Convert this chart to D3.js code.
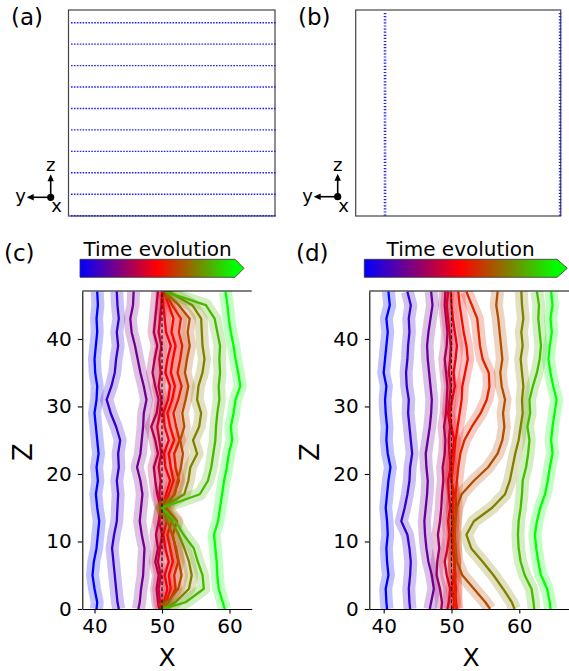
<!DOCTYPE html>
<html>
<head>
<meta charset="utf-8">
<script src="https://cdn.jsdelivr.net/npm/d3@7/dist/d3.min.js"></script>
<style>
    body{ margin:0; background:#fff; }
    svg{ display:block; font-family:"DejaVu Sans", sans-serif; }
</style>
</head>
<body>
<svg id="fig" width="569" height="671"></svg>
<script>
//heights (z) at which every trace is sampled
var zs = [0,1,3,5,7,9,11,13,15,17,19,21,23,25,27,29,31,33,35,37,39,41,43,45,47];

//time of each snapshot, 0 = first (blue), 1 = last (green)
var timesC = [0, 0.1, 0.22, 0.32, 0.4, 0.46, 0.5, 0.55, 0.65, 0.75, 0.86, 1.0];
var timesD = [0, 0.1, 0.2, 0.3, 0.4, 0.47, 0.52, 0.57, 0.65, 0.75, 0.87, 1.0];

//panel (c): x position of the front along z, one array per snapshot
var tracesC = [
    [40.3,40.4,40.0,39.7,39.9,40.3,40.5,40.7,40.4,40.2,40.5,40.3,40.6,40.4,40.2,40.0,40.3,40.4,40.1,40.0,40.2,40.4,40.3,40.5,40.4],
    [43.6,43.4,43.2,43.0,42.8,42.6,42.9,43.3,43.4,43.5,43.3,43.6,43.5,43.8,43.2,42.4,41.8,42.5,43.0,43.2,43.5,43.3,43.6,43.4,43.3],
    [46.5,46.7,46.9,47.2,47.3,47.4,47.0,46.7,46.9,47.1,46.8,46.3,46.8,47.0,47.2,47.3,47.7,47.3,46.8,46.4,46.0,45.5,45.3,45.7,45.8],
    [49.6,49.4,49.2,49.5,49.0,49.4,49.1,49.5,49.8,49.3,49.0,48.8,49.4,49.0,48.4,49.2,49.5,49.0,48.6,48.9,49.3,48.8,49.0,49.2,49.4],
    [49.9,49.7,49.5,49.8,49.4,49.7,50.0,49.6,49.9,49.6,49.8,49.5,49.9,49.6,49.3,49.7,49.9,49.5,49.8,49.6,49.9,49.5,49.7,49.9,50.0],
    [50.0,50.3,50.8,50.4,51.0,50.5,50.2,50.7,50.1,50.6,51.2,50.5,50.3,51.0,50.4,50.2,50.9,51.2,50.5,50.8,51.3,50.6,50.4,50.2,50.1],
    [50.0,50.6,51.3,51.0,51.6,51.2,50.8,51.4,50.3,51.0,51.7,51.3,51.0,51.8,51.2,50.8,51.5,51.9,51.3,51.6,52.0,51.4,51.7,51.0,50.3],
    [50.0,51.0,52.0,51.8,52.4,52.0,51.6,52.2,50.6,51.8,52.5,52.0,51.8,52.6,52.1,51.7,52.4,52.9,52.3,52.7,53.0,52.5,52.8,51.5,50.5],
    [50.0,50.8,52.4,52.9,52.5,52.1,51.5,50.8,50.0,51.9,52.3,52.8,53.1,52.7,53.3,53.0,53.5,53.9,53.4,53.7,54.1,53.8,54.1,52.5,50.4],
    [50.1,52.0,54.0,54.4,54.0,53.3,52.5,51.4,50.0,53.3,53.9,54.2,55.2,54.6,55.5,55.8,55.2,55.4,56.0,56.3,56.0,55.9,55.8,54.5,51.0],
    [50.0,53.5,56.2,56.0,55.3,54.7,53.2,52.0,50.0,55.6,56.8,57.3,57.6,57.9,58.0,58.2,58.5,58.4,58.6,58.5,58.6,58.2,57.8,56.5,50.5],
    [59.3,59.0,58.4,58.2,58.1,57.9,57.7,58.3,58.6,58.9,59.2,59.6,59.9,60.4,60.2,60.6,60.9,61.6,61.3,60.9,60.6,60.2,59.9,59.7,59.4]
];

//panel (d)
var tracesD = [
    [40.5,40.4,40.3,40.7,40.5,40.4,40.6,40.5,40.3,40.5,40.7,41.0,40.6,40.4,40.5,40.3,40.2,40.4,40.0,40.2,40.4,40.6,40.4,40.9,40.7],
    [43.9,43.8,43.7,43.9,44.0,43.8,43.5,42.6,43.1,43.5,43.8,43.9,44.2,44.0,43.8,43.6,43.7,43.4,43.3,43.5,43.6,43.8,43.7,44.0,43.5],
    [46.8,47.0,47.4,47.1,46.6,46.3,46.1,46.0,46.2,46.4,46.5,46.3,46.2,46.5,46.8,47.0,47.1,46.9,46.7,46.5,46.4,46.6,46.9,47.2,47.0],
    [48.5,48.6,48.3,47.8,47.9,48.2,48.0,48.3,48.5,48.6,48.8,48.7,49.0,49.1,48.9,49.2,49.3,49.4,49.2,49.0,49.3,49.4,49.2,49.0,49.1],
    [49.4,49.6,49.8,49.3,49.0,49.4,49.7,49.5,49.8,49.6,49.5,49.9,49.7,49.6,49.8,49.5,49.7,49.9,49.6,49.8,49.9,49.7,49.5,49.3,49.5],
    [50.2,50.4,50.1,50.3,50.5,50.2,50.0,50.3,50.1,50.4,50.0,49.8,50.1,50.4,50.0,49.7,50.1,50.5,50.3,50.6,50.8,50.5,50.2,50.0,49.9],
    [50.8,50.7,50.5,50.6,50.4,50.2,50.3,50.1,50.3,50.2,50.0,50.2,50.4,50.6,50.9,51.2,51.5,51.6,52.0,52.4,52.2,51.8,51.5,51.2,51.0],
    [50.6,50.5,50.7,50.4,50.5,50.6,50.4,50.5,50.7,50.6,50.8,51.0,51.3,51.9,53.0,54.3,55.2,55.6,55.5,54.6,54.2,54.0,53.8,53.0,52.2],
    [55.7,55.0,53.3,51.6,50.8,50.6,50.5,50.6,50.8,51.5,53.3,55.4,56.8,57.5,57.8,57.6,57.9,57.4,57.2,57.5,57.3,57.1,56.9,56.6,56.8],
    [59.3,58.9,57.6,56.2,54.6,52.9,52.2,53.3,56.0,57.9,58.6,59.0,59.4,59.9,60.2,60.5,60.4,60.6,60.4,60.2,60.5,60.3,60.6,60.4,60.3],
    [62.2,62.1,61.8,60.8,60.2,59.9,59.8,59.9,60.2,60.4,60.5,61.0,61.3,61.5,61.2,61.6,61.5,62.0,62.6,63.0,63.2,63.0,62.8,62.9,62.6],
    [64.6,64.5,64.1,63.2,62.8,62.5,62.3,62.6,63.1,63.8,64.2,64.5,64.9,64.7,64.9,65.2,65.5,65.0,64.6,64.3,64.5,64.8,64.6,64.9,64.7]
];

//initial particle layers: (a) horizontal layers, (b) vertical columns
var layersA = [0,1,2,3,4,5,6,7,8,9];
var columnsB = [1.43, 9.97];

var xTicks = [40, 50, 60];
var zTicks = [0, 10, 20, 30, 40];
var centreX = 50;

var svg = d3.select('#fig');

//blue -> red -> green, the "time evolution" colormap
var cmap = d3.scaleLinear()
    .domain([0, 0.5, 1])
    .range(['#0000ff', '#ff0000', '#00ff00']);

function panelLabel(txt, x, y){
    svg.append('text')
        .attr('x', x).attr('y', y)
        .style('font-size', '23px')
        .text(txt);
}

//little y/z/x orientation sign
function triad(ox, oy){
    var g = svg.append('g');
    g.append('line')
        .attr('x1', ox).attr('y1', oy).attr('x2', ox).attr('y2', oy - 17)
        .attr('stroke', '#000').attr('stroke-width', 1.6);
    g.append('path')
        .attr('d', 'M' + ox + ',' + (oy - 23) + 'L' + (ox - 3.2) + ',' + (oy - 16) + 'L' + (ox + 3.2) + ',' + (oy - 16) + 'Z')
        .attr('fill', '#000');
    g.append('line')
        .attr('x1', ox).attr('y1', oy).attr('x2', ox - 18).attr('y2', oy)
        .attr('stroke', '#000').attr('stroke-width', 1.6);
    g.append('path')
        .attr('d', 'M' + (ox - 24) + ',' + oy + 'L' + (ox - 17) + ',' + (oy - 3.2) + 'L' + (ox - 17) + ',' + (oy + 3.2) + 'Z')
        .attr('fill', '#000');
    g.append('circle').attr('cx', ox).attr('cy', oy).attr('r', 3.6).attr('fill', '#000');
    g.selectAll('text')
        .data([['z', ox, oy - 26], ['y', ox - 30, oy + 5], ['x', ox + 6, oy + 15]])
        .enter()
        .append('text')
        .attr('x', function(d){ return d[1]; })
        .attr('y', function(d){ return d[2]; })
        .attr('text-anchor', 'middle')
        .style('font-size', '18px')
        .text(function(d){ return d[0]; });
}

// ---- (a) and (b): initial configurations ----
(function(){
    var boxA = {x0: 68.5, x1: 275, y0: 10, y1: 216},
        boxB = {x0: 355.7, x1: 560.7, y0: 10, y1: 216},
        yA = d3.scaleLinear().domain([0, 9]).range([215.7, 22.7]),
        xB = d3.scaleLinear().domain([0, 10]).range([boxB.x0, boxB.x1]);

    [boxA, boxB].forEach(function(b){
        svg.append('rect')
            .attr('x', b.x0).attr('y', b.y0)
            .attr('width', b.x1 - b.x0).attr('height', b.y1 - b.y0)
            .attr('fill', 'none').attr('stroke', '#444').attr('stroke-width', 1.2);
    });

    svg.append('g').selectAll('line')
        .data(layersA)
        .enter()
        .append('line')
        .attr('x1', 71).attr('x2', 276)
        .attr('y1', function(d){ return yA(d); })
        .attr('y2', function(d){ return yA(d); })
        .attr('stroke', '#2222ee').attr('stroke-width', 1.4)
        .attr('stroke-dasharray', '1.6 1.3');

    svg.append('g').selectAll('line')
        .data(columnsB)
        .enter()
        .append('line')
        .attr('x1', function(d){ return xB(d); })
        .attr('x2', function(d){ return xB(d); })
        .attr('y1', 13).attr('y2', 216)
        .attr('stroke', '#2222ee').attr('stroke-width', 2.6)
        .attr('stroke-dasharray', '1.2 1.9');

    triad(50.7, 197.3);
    triad(337.7, 196.7);
    panelLabel('(a)', 11, 25);
    panelLabel('(b)', 298, 25);
})();

// ---- (c) and (d): front evolution ----
var grad = svg.append('defs').append('linearGradient').attr('id', 'tgrad');
[0, 0.5, 1].forEach(function(t){
    grad.append('stop').attr('offset', t).attr('stop-color', cmap(t));
});

function colorbar(x0, x1, tip){
    var y0 = 259.3, y1 = 277.3, ym = (y0 + y1) / 2;
    svg.append('rect')
        .attr('x', x0).attr('y', y0).attr('width', x1 - x0).attr('height', y1 - y0)
        .attr('fill', 'url(#tgrad)');
    svg.append('path')
        .attr('d', 'M' + x1 + ',' + y0 + 'L' + tip + ',' + ym + 'L' + x1 + ',' + y1 + 'Z')
        .attr('fill', cmap(1));
    svg.append('path')
        .attr('d', 'M' + x0 + ',' + y0 + 'L' + x1 + ',' + y0 + 'L' + tip + ',' + ym + 'L' + x1 + ',' + y1 + 'L' + x0 + ',' + y1 + 'Z')
        .attr('fill', 'none').attr('stroke', '#333').attr('stroke-width', 0.8);
    svg.append('text')
        .attr('x', (x0 + x1) / 2).attr('y', 255.5)
        .attr('text-anchor', 'middle')
        .style('font-size', '20px')
        .text('Time evolution');
}

function frontPanel(id, traces, times, xDomain, xRange){
    var x = d3.scaleLinear().domain(xDomain).range(xRange),
        z = d3.scaleLinear().domain([0, 47.1]).range([609, 291]),
        g = svg.append('g'),
        plot,
        line;

    g.append('clipPath').attr('id', id)
        .append('rect')
        .attr('x', xRange[0]).attr('y', 291)
        .attr('width', xRange[1] - xRange[0]).attr('height', 318);

    plot = g.append('g').attr('clip-path', 'url(#' + id + ')');

    line = d3.line()
        .x(function(d){ return x(d[0]); })
        .y(function(d){ return z(d[1]); });

    traces.forEach(function(xs, i){
        var pts = xs.map(function(v, j){ return [v, zs[j]]; }),
            col = cmap(times[i]);
        //spread band
        plot.append('path')
            .attr('d', line(pts))
            .attr('fill', 'none')
            .attr('stroke', col)
            .attr('stroke-opacity', 0.24)
            .attr('stroke-width', 13)
            .attr('stroke-linejoin', 'round')
            .attr('stroke-linecap', 'butt');
        plot.append('path')
            .attr('d', line(pts))
            .attr('fill', 'none')
            .attr('stroke', col)
            .attr('stroke-width', 2.3)
            .attr('stroke-linejoin', 'round');
    });

    //initial interface position
    plot.append('line')
        .attr('x1', x(centreX)).attr('x2', x(centreX))
        .attr('y1', z(0)).attr('y2', z(47))
        .attr('stroke', '#000').attr('stroke-width', 1.1)
        .attr('stroke-dasharray', '3.5 2.5');

    //spines: left, bottom, top
    g.append('g')
        .attr('transform', 'translate(' + xRange[0] + ',0)')
        .call(d3.axisLeft(z).tickValues(zTicks).tickSize(4.5).tickSizeOuter(0).tickPadding(6))
        .call(styleAxis);
    g.append('g')
        .attr('transform', 'translate(0,609)')
        .call(d3.axisBottom(x).tickValues(xTicks).tickSize(4.5).tickSizeOuter(0).tickPadding(5))
        .call(styleAxis);
    g.append('line')
        .attr('x1', xRange[0]).attr('x2', xRange[1])
        .attr('y1', 291).attr('y2', 291)
        .attr('stroke', '#000').attr('stroke-width', 1.1);

    g.append('text')
        .attr('transform', 'translate(' + (xRange[0] - 50) + ',452) rotate(-90)')
        .attr('text-anchor', 'middle')
        .style('font-size', '26px')
        .text('Z');
    g.append('text')
        .attr('x', (xRange[0] + xRange[1]) / 2).attr('y', 666)
        .attr('text-anchor', 'middle')
        .style('font-size', '25px')
        .text('X');
}

function styleAxis(sel){
    sel.select('.domain').attr('stroke', '#000').attr('stroke-width', 1.1);
    sel.selectAll('.tick line').attr('stroke', '#000').attr('stroke-width', 1.1);
    sel.selectAll('.tick text')
        .attr('fill', '#000')
        .style('font-family', '"DejaVu Sans", sans-serif')
        .style('font-size', '20px');
}

colorbar(80, 235, 244);
colorbar(364.3, 557, 567.3);
frontPanel('clipC', tracesC, timesC, [38.19, 63.29], [82.3, 251.7]);
frontPanel('clipD', tracesD, timesD, [37.88, 67.92], [369.3, 573]);
panelLabel('(c)', 4, 261);
panelLabel('(d)', 296, 261);
</script>
</body>
</html>
